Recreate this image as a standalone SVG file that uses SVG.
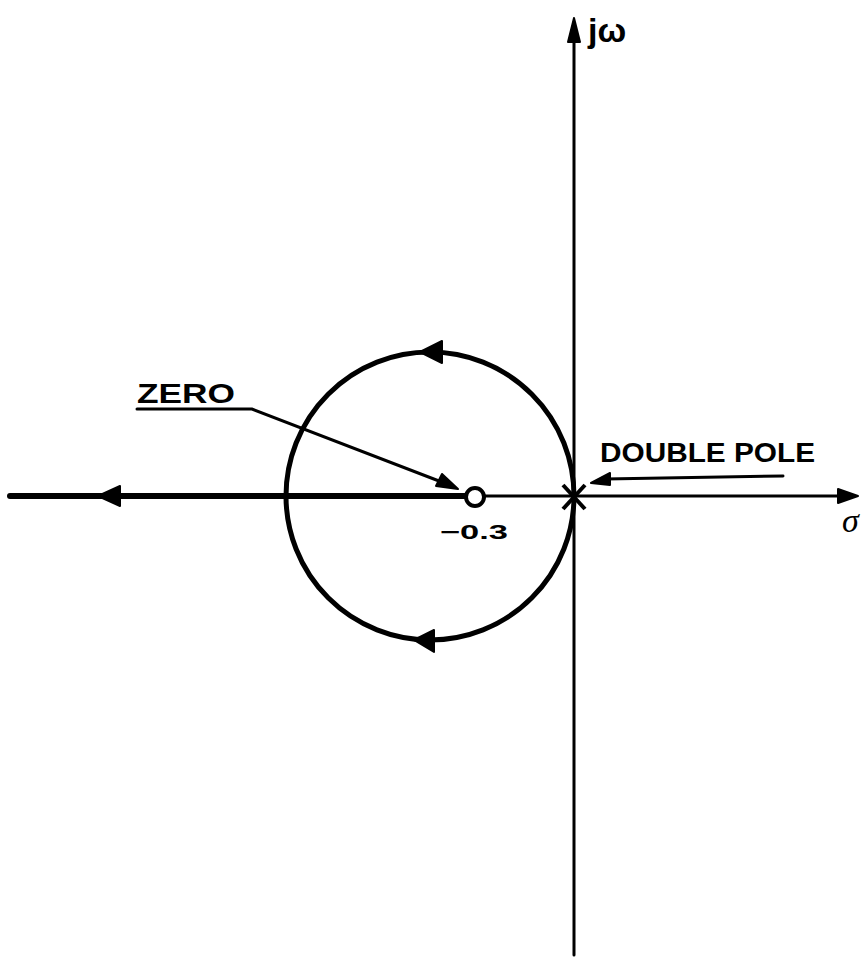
<svg xmlns="http://www.w3.org/2000/svg" width="862" height="962" viewBox="0 0 862 962">
<style>
.lbl{font-family:"Liberation Sans",Arial,sans-serif;font-weight:bold;fill:#000}
.thin{stroke:#000;stroke-width:3;fill:none;stroke-linecap:round}
.thick{stroke:#000;stroke-width:6;fill:none;stroke-linecap:round}
.head{fill:#000;stroke:#000;stroke-width:2;stroke-linejoin:round}
</style>
<rect width="862" height="962" fill="#fff"/>
<g id="connectors">
<!-- vertical axis -->
<line class="thin" x1="574" y1="30" x2="574" y2="955"/>
<path class="head" d="M574,18 L568,42 L580,42 Z"/>
<!-- horizontal axis -->
<line class="thin" x1="460" y1="496" x2="848" y2="496"/>
<path class="head" d="M858,496 L838,489 L838,503 Z"/>
<line class="thick" x1="10" y1="496" x2="466" y2="496"/>
<path class="head" d="M98,496 L120,486 L120,506 Z"/>
<!-- root locus circle -->
<circle cx="430" cy="496" r="144" stroke="#000" stroke-width="5" fill="none"/>
<path class="head" d="M420,352 L442,341 L442,363 Z"/>
<path class="head" d="M414,640 L434,630 L434,652 Z"/>
<!-- ZERO leader -->
<polyline class="thin" points="137,409 252,409 452,486"/>
<path class="head" d="M458,489 L436,486 L442,474 Z"/>
<!-- DOUBLE POLE leader -->
<line class="thin" x1="783" y1="476" x2="605" y2="479"/>
<path class="head" d="M591,483 L610,473 L610,485 Z"/>
</g>
<g id="zero">
<circle cx="475" cy="497" r="9" stroke="#000" stroke-width="4" fill="#fff"/>
<text class="lbl" x="440" y="539" font-size="21" textLength="68" lengthAdjust="spacingAndGlyphs">−0.3</text>
</g>
<g id="pole">
<line x1="563" y1="485" x2="585" y2="509" stroke="#000" stroke-width="4"/>
<line x1="585" y1="485" x2="563" y2="509" stroke="#000" stroke-width="4"/>
</g>
<g id="labels">
<text class="lbl" x="137" y="403" font-size="28" textLength="98" lengthAdjust="spacingAndGlyphs">ZERO</text>
<text class="lbl" x="600" y="462" font-size="27" textLength="215" lengthAdjust="spacingAndGlyphs">DOUBLE  POLE</text>
<text class="lbl" x="588" y="42" font-size="34">jω</text>
<text x="842" y="532" font-size="34" font-style="italic" font-family="Liberation Serif,serif">σ</text>
</g>
</svg>
